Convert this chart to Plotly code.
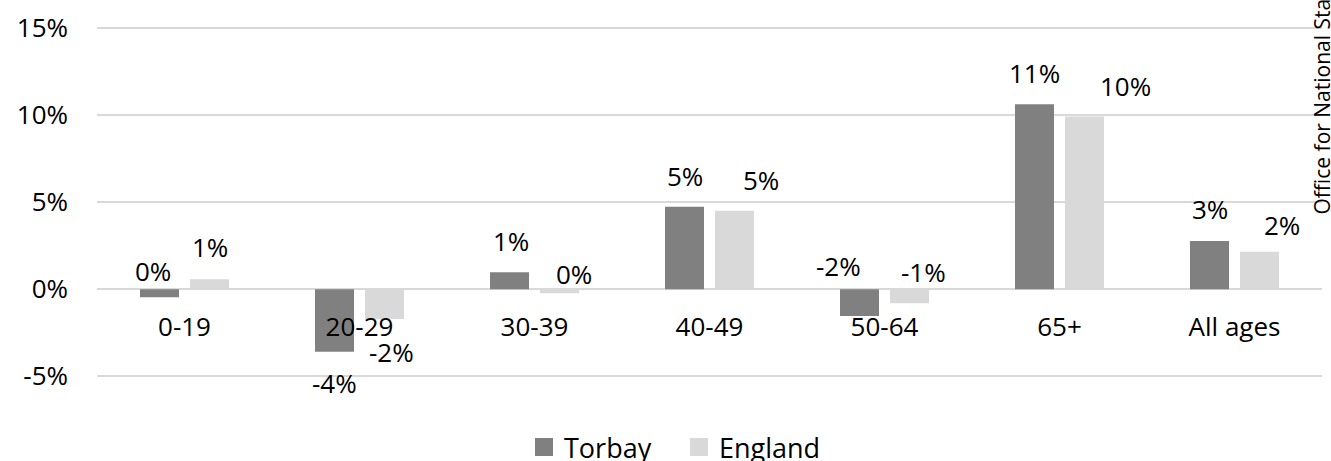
import math
import plotly.graph_objects as go

# Population change by age band, 2011-2021 (%)
categories = ["0-19", "20-29", "30-39", "40-49", "50-64", "65+", "All ages"]
torbay = [-0.46, -3.58, 0.98, 4.74, -1.53, 10.62, 2.77]
england = [0.57, -1.70, -0.23, 4.51, -0.80, 9.91, 2.16]
y_tick_values = [-5, 0, 5, 10, 15]
y_tick_text = [f"{v}%" for v in y_tick_values]
source_text = "Office for National Statistics"

# Styling / layout constants
FONT = "Open Sans"
TEXT_COLOR = "#000000"
TORBAY_COLOR = "#808080"
ENGLAND_COLOR = "#d9d9d9"
GRID_COLOR = "#d9d9d9"
W, H = 1331, 461
M_L, M_R, M_T, M_B = 97, 9, 10, 61
Y_RANGE = [-6.355, 16.03]
SLOT_PX = 25  # horizontal offset of each bar from its category centre

# Categories whose value labels sit beneath the bars
LABEL_BELOW = {"20-29"}
# Hand nudges (dx, dy in px) for the value labels of each series
TORBAY_NUDGE = [(-7, 1), (0, 0), (1, 0), (0, 0), (-21, 6), (0, 0), (0, 1)]
ENGLAND_NUDGE = [(0, 1), (7, -2), (14, -2), (26, 0), (14, 0), (41, 0), (22, -4)]
POS_SHIFT = 11     # label above a positive bar end
ZERO_SHIFT = -3    # label above the zero line for small negative bars
BELOW_SHIFT = -11  # label below a negative bar end


def pct_label(v):
    r = math.floor(abs(v) + 0.5)
    return f"{'-' if (v < 0 and r) else ''}{r}%"


fig = go.Figure()
fig.add_trace(go.Bar(x=categories, y=torbay, name="Torbay",
                     marker=dict(color=TORBAY_COLOR, line=dict(width=0)),
                     showlegend=False, hoverinfo="x+y"))
fig.add_trace(go.Bar(x=categories, y=england, name="England",
                     marker=dict(color=ENGLAND_COLOR, line=dict(width=0)),
                     showlegend=False, hoverinfo="x+y"))

# Legend entries with larger square swatches
for name, color in (("Torbay", TORBAY_COLOR), ("England", ENGLAND_COLOR)):
    fig.add_trace(go.Scatter(x=[None], y=[None], mode="markers", name=name,
                             marker=dict(symbol="square", size=16, color=color,
                                         line=dict(color=color, width=2))))

annotations = []
for values, side, nudges in ((torbay, -1, TORBAY_NUDGE), (england, 1, ENGLAND_NUDGE)):
    for cat, v, (dx, dy) in zip(categories, values, nudges):
        if cat in LABEL_BELOW:
            y, anchor, shift = v, "top", BELOW_SHIFT
        elif v >= 0:
            y, anchor, shift = v, "bottom", POS_SHIFT
        else:
            y, anchor, shift = 0, "bottom", ZERO_SHIFT
        annotations.append(dict(
            x=cat, y=y, xref="x", yref="y", text=pct_label(v),
            showarrow=False, xanchor="center", yanchor=anchor,
            xshift=side * SLOT_PX + dx, yshift=shift + dy,
            font=dict(family=FONT, size=26, color=TEXT_COLOR)))

plot_w = W - M_L - M_R
plot_h = H - M_T - M_B
annotations.append(dict(
    x=(1321 - M_L) / plot_w, y=(H - M_B - 217) / plot_h,
    xref="paper", yref="paper", text=source_text, showarrow=False,
    textangle=-90, xanchor="center", yanchor="bottom",
    font=dict(family=FONT, size=21, color=TEXT_COLOR)))

zero_pos = (0 - Y_RANGE[0]) / (Y_RANGE[1] - Y_RANGE[0])

fig.update_layout(
    width=W, height=H,
    margin=dict(l=M_L, r=M_R, t=M_T, b=M_B, autoexpand=False),
    paper_bgcolor="white", plot_bgcolor="white",
    barmode="group", bargap=0.4286, bargroupgap=0.22,
    font=dict(family=FONT, size=26, color=TEXT_COLOR),
    xaxis=dict(type="category", anchor="free", position=zero_pos,
               showline=False, showgrid=False, zeroline=False,
               ticks="", ticklabelstandoff=20, automargin=False,
               tickfont=dict(family=FONT, size=26, color=TEXT_COLOR)),
    yaxis=dict(range=Y_RANGE, tickvals=y_tick_values, ticktext=y_tick_text,
               showgrid=True, gridcolor=GRID_COLOR, gridwidth=1.5,
               zeroline=True, zerolinecolor=GRID_COLOR, zerolinewidth=1.5,
               showline=False, ticks="", ticklabelstandoff=28, automargin=False,
               tickfont=dict(family=FONT, size=26, color=TEXT_COLOR)),
    legend=dict(orientation="h", xref="container", yref="container",
                x=524 / W, xanchor="left", y=1 - 423 / H, yanchor="top",
                entrywidth=110, entrywidthmode="pixels",
                font=dict(family=FONT, size=27, color=TEXT_COLOR),
                bgcolor="rgba(0,0,0,0)", itemclick=False, itemdoubleclick=False),
    annotations=annotations,
)

fig.write_html("out.html")
